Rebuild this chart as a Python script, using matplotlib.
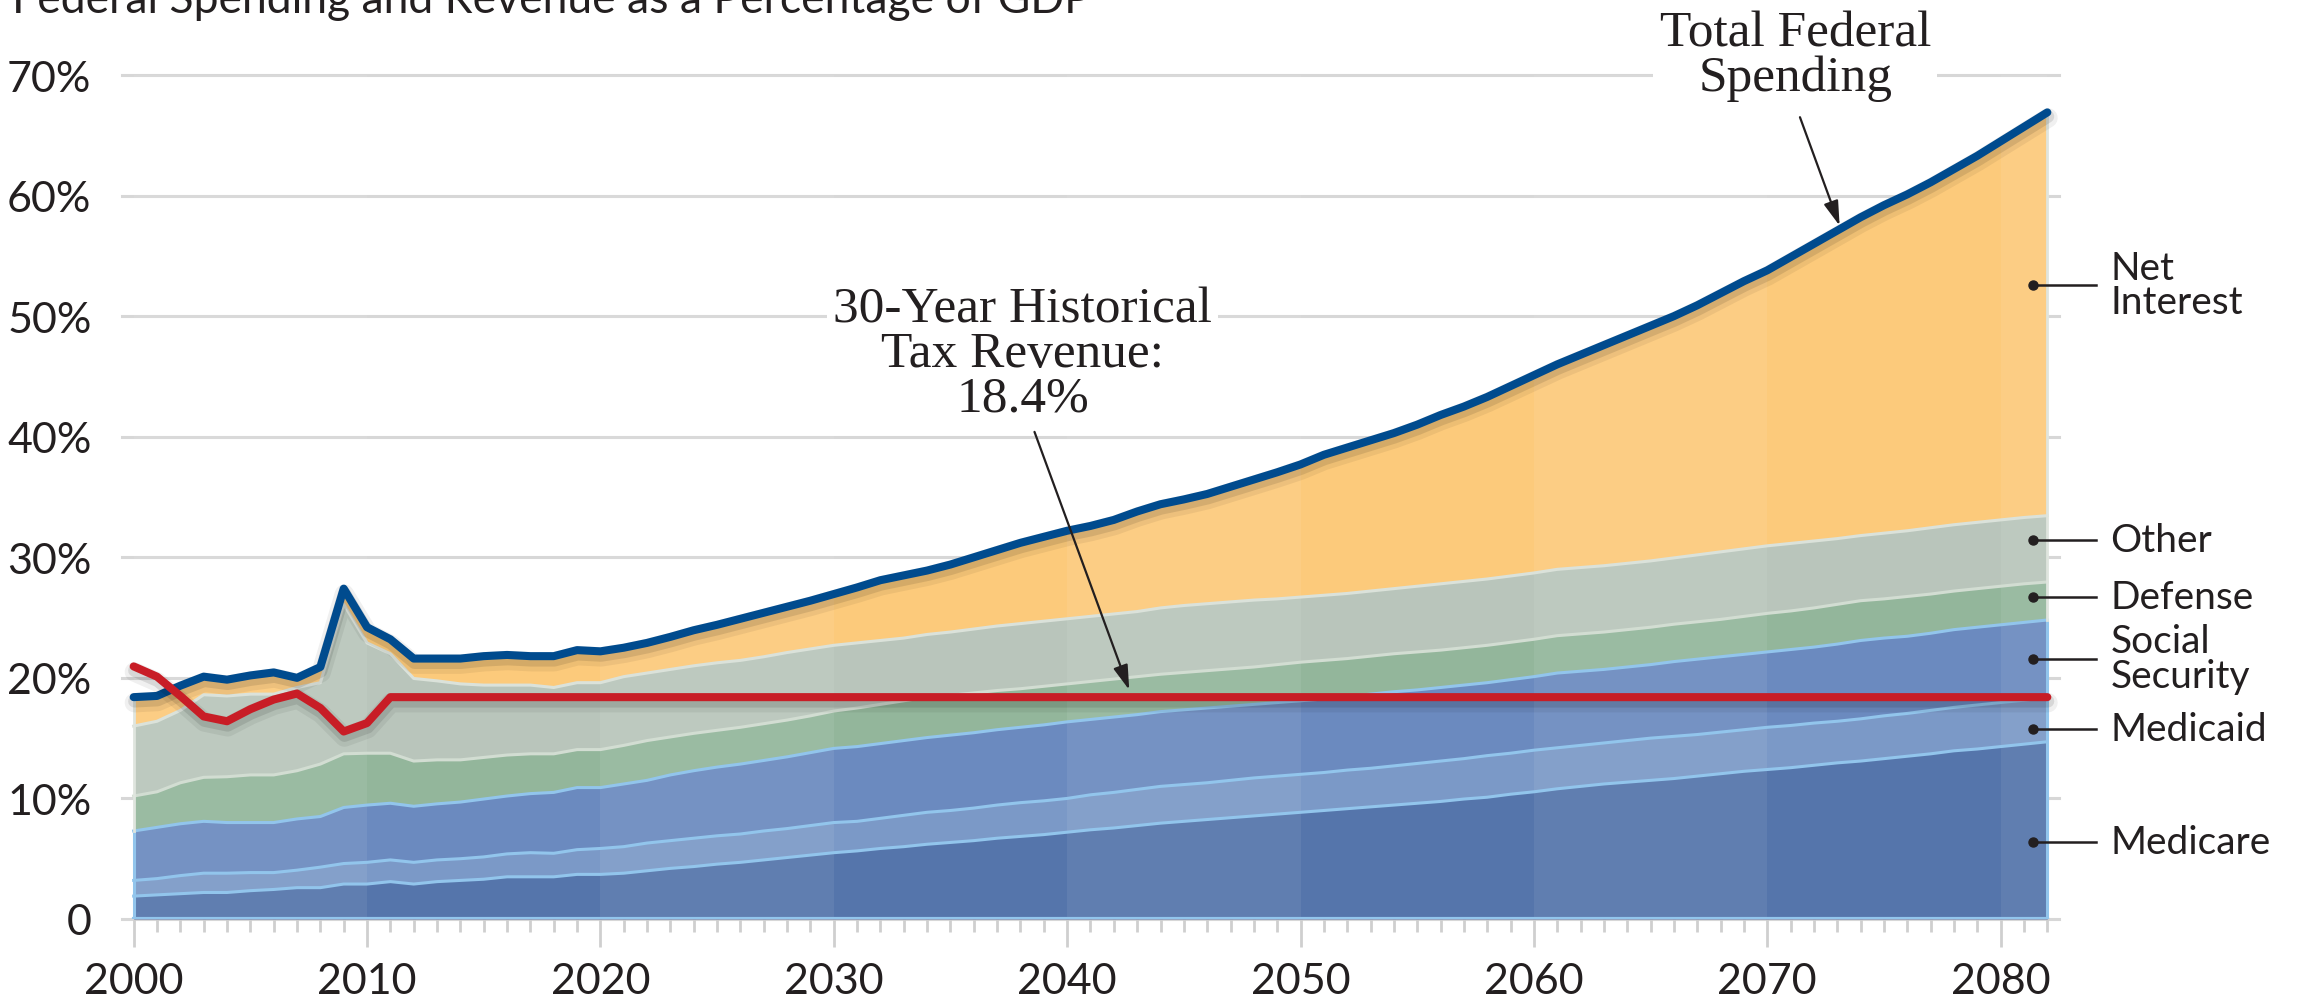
import numpy as np
import matplotlib.pyplot as plt
import matplotlib.patheffects as pe

# ---- data (percent of GDP) ----
years = np.arange(2000, 2083)

medicare = [1.9, 2.0, 2.1, 2.2, 2.2, 2.35, 2.45, 2.6, 2.6, 2.9,
            2.9, 3.1, 2.9, 3.1, 3.2, 3.3, 3.5, 3.5, 3.5, 3.7,
            3.7, 3.8, 4.0, 4.2, 4.35, 4.55, 4.7, 4.9, 5.1, 5.3,
            5.5, 5.65, 5.85, 6.0, 6.2, 6.35, 6.5, 6.7, 6.85, 7.0,
            7.2, 7.4, 7.55, 7.75, 7.95, 8.1, 8.25, 8.4, 8.55, 8.7,
            8.85, 9.0, 9.15, 9.3, 9.45, 9.6, 9.75, 9.95, 10.1, 10.35,
            10.55, 10.8, 11.0, 11.2, 11.35, 11.5, 11.65, 11.85, 12.05, 12.25,
            12.4, 12.55, 12.75, 12.95, 13.1, 13.3, 13.5, 13.7, 13.95, 14.1,
            14.3, 14.5, 14.7]

medicaid = [1.3, 1.35, 1.5, 1.6, 1.6, 1.5, 1.4, 1.45, 1.7, 1.7,
            1.8, 1.8, 1.8, 1.8, 1.8, 1.85, 1.9, 2.0, 1.95, 2.05,
            2.15, 2.2, 2.3, 2.3, 2.35, 2.35, 2.35, 2.4, 2.4, 2.45,
            2.5, 2.45, 2.5, 2.6, 2.65, 2.65, 2.7, 2.75, 2.8, 2.8,
            2.8, 2.9, 2.95, 3.0, 3.05, 3.05, 3.05, 3.1, 3.15, 3.15,
            3.15, 3.15, 3.2, 3.2, 3.25, 3.3, 3.35, 3.35, 3.45, 3.4,
            3.45, 3.4, 3.4, 3.4, 3.45, 3.5, 3.5, 3.45, 3.45, 3.45,
            3.5, 3.5, 3.5, 3.45, 3.5, 3.55, 3.55, 3.6, 3.6, 3.65,
            3.65, 3.65, 3.65]

social_security = [4.1, 4.25, 4.3, 4.3, 4.2, 4.15, 4.15, 4.25, 4.2, 4.65,
                   4.75, 4.7, 4.65, 4.65, 4.7, 4.8, 4.8, 4.9, 5.05, 5.15,
                   5.05, 5.2, 5.2, 5.45, 5.6, 5.7, 5.8, 5.85, 5.95, 6.05,
                   6.15, 6.2, 6.2, 6.2, 6.2, 6.25, 6.25, 6.25, 6.25, 6.3,
                   6.35, 6.25, 6.25, 6.2, 6.2, 6.2, 6.2, 6.15, 6.1, 6.1,
                   6.1, 6.1, 6.1, 6.15, 6.15, 6.1, 6.1, 6.1, 6.05, 6.1,
                   6.1, 6.2, 6.15, 6.1, 6.1, 6.1, 6.2, 6.25, 6.25, 6.25,
                   6.25, 6.3, 6.3, 6.4, 6.5, 6.45, 6.4, 6.4, 6.45, 6.45,
                   6.45, 6.45, 6.45]

defense = [2.9, 2.95, 3.4, 3.65, 3.8, 3.95, 3.95, 4.0, 4.35, 4.45,
           4.3, 4.15, 3.75, 3.65, 3.5, 3.45, 3.4, 3.3, 3.2, 3.15,
           3.15, 3.2, 3.3, 3.15, 3.1, 3.05, 3.05, 3.05, 3.05, 3.05,
           3.1, 3.2, 3.25, 3.3, 3.35, 3.3, 3.3, 3.25, 3.2, 3.2,
           3.15, 3.15, 3.15, 3.15, 3.1, 3.1, 3.1, 3.1, 3.1, 3.15,
           3.2, 3.2, 3.15, 3.15, 3.15, 3.15, 3.1, 3.1, 3.1, 3.1,
           3.1, 3.1, 3.1, 3.1, 3.1, 3.1, 3.1, 3.1, 3.1, 3.15,
           3.2, 3.2, 3.25, 3.3, 3.3, 3.25, 3.3, 3.25, 3.2, 3.2,
           3.2, 3.2, 3.15]

other = [5.8, 5.85, 6.0, 6.85, 6.7, 6.7, 6.7, 6.9, 6.75, 12.4,
         9.15, 8.25, 6.85, 6.55, 6.3, 6.0, 5.8, 5.7, 5.5, 5.55,
         5.55, 5.7, 5.6, 5.6, 5.6, 5.6, 5.55, 5.55, 5.6, 5.55,
         5.45, 5.4, 5.3, 5.2, 5.2, 5.25, 5.3, 5.35, 5.4, 5.4,
         5.4, 5.4, 5.4, 5.4, 5.5, 5.55, 5.55, 5.55, 5.55, 5.45,
         5.4, 5.4, 5.4, 5.4, 5.4, 5.45, 5.5, 5.5, 5.5, 5.5,
         5.5, 5.5, 5.5, 5.5, 5.5, 5.5, 5.5, 5.55, 5.6, 5.6,
         5.6, 5.6, 5.55, 5.45, 5.4, 5.45, 5.45, 5.5, 5.5, 5.5,
         5.5, 5.5, 5.5]

net_interest = [2.4, 2.1, 2.05, 1.5, 1.35, 1.55, 1.8, 0.8, 1.3, 1.3,
                1.3, 1.2, 1.65, 1.85, 2.1, 2.4, 2.5, 2.4, 2.6, 2.7,
                2.6, 2.4, 2.5, 2.7, 2.95, 3.15, 3.45, 3.65, 3.8, 4.0,
                4.25, 4.6, 5.0, 5.2, 5.3, 5.6, 5.95, 6.3, 6.7, 7.0,
                7.3, 7.5, 7.8, 8.3, 8.6, 8.8, 9.1, 9.55, 10.0, 10.5,
                11.0, 11.65, 12.1, 12.5, 12.9, 13.4, 14.0, 14.5, 15.1, 15.75,
                16.4, 17.0, 17.65, 18.3, 18.9, 19.5, 20.05, 20.7, 21.45, 22.2,
                22.85, 23.75, 24.65, 25.55, 26.4, 27.2, 27.9, 28.65, 29.5, 30.4,
                31.4, 32.4, 33.45]

# tax revenue: actual 2000-2010, then the 30-year historical average
revenue_actual = [20.95, 20.1, 18.5, 16.8, 16.4, 17.4, 18.2, 18.7, 17.5, 15.55, 16.25]
revenue_avg = 18.4

layer_names = ['Medicare', 'Medicaid', 'Social\nSecurity', 'Defense', 'Other', 'Net\nInterest']

# ---- styling ----
fill_colors = ['#5575ab', '#7b99c7', '#6b8abf', '#93b69b', '#b9c5bb', '#fcca7b']
edge_colors = ['#92c5ec', '#92c5ec', '#92c5ec', '#d2ddd2', '#dbe2da']
label_y = [6.35, 15.75, 21.6, 26.7, 31.4, 52.6]
ink = '#231f20'
sans = 'Lato'
serif = 'Liberation Serif'

layers = np.array([medicare, medicaid, social_security, defense, other, net_interest])
tops = np.cumsum(layers, axis=0)
bottoms = tops - layers
total = tops[-1]
revenue = np.array(revenue_actual + [revenue_avg] * (len(years) - len(revenue_actual)))

fig = plt.figure(figsize=(22.98, 10.03), dpi=100)
ax = fig.add_axes([122 / 2298, 1 - 920 / 1003, 1937 / 2298, 844 / 1003])
ax.set_xlim(1999.5, 2082.5)
ax.set_ylim(0, 70)
for s in ax.spines.values():
    s.set_visible(False)

# gridlines
for v in range(0, 80, 10):
    ax.axhline(v, color='#d7d7d7', lw=2.2, zorder=1, clip_on=False)

# stacked areas
for i in range(len(layers)):
    ax.fill_between(years, bottoms[i], tops[i], color=fill_colors[i], lw=0, zorder=2)

# alternate decade shading
for d in range(2000, 2083, 20):
    ax.axvspan(d, min(d + 10, years[-1]), color='white', alpha=0.07, lw=0, zorder=2.5)

# layer boundaries and outline
for i in range(5):
    ax.plot(years, tops[i], color=edge_colors[i], lw=2.2, zorder=3)
ax.plot([years[0], years[-1]], [0, 0], color='#92c5ec', lw=3, zorder=3)
for x, j in ((years[0], 0), (years[-1], -1)):
    ax.plot([x, x], [0, tops[2][j]], color='#92c5ec', lw=2.2, zorder=3)
    ax.plot([x, x], [tops[2][j], tops[-1][j]], color='#dfe5de', lw=2, zorder=3)

shadow = [pe.SimpleLineShadow(offset=(0.5, -4), shadow_color='black', alpha=0.06, linewidth=14),
          pe.SimpleLineShadow(offset=(0.5, -3), shadow_color='black', alpha=0.10, linewidth=9),
          pe.Normal()]

ax.plot(years, total, color='#004b8e', lw=5.8, solid_capstyle='round',
        solid_joinstyle='round', zorder=6, path_effects=shadow)
ax.plot(years, revenue, color='#c81d26', lw=5.8, solid_capstyle='round',
        solid_joinstyle='round', zorder=7, path_effects=shadow)

# axes ticks
ax.set_yticks(range(0, 80, 10))
ax.set_yticklabels(['0'] + ['%d%%' % v for v in range(10, 80, 10)])
ax.set_xticks(range(2000, 2081, 10))
ax.set_xticks(years, minor=True)
ax.tick_params(axis='y', length=0, pad=22, labelsize=31, labelcolor=ink)
ax.tick_params(axis='x', which='major', length=20, width=2, color='#cfcfcf',
               pad=11, labelsize=31, labelcolor=ink)
ax.tick_params(axis='x', which='minor', length=9.5, width=2, color='#cfcfcf')
for lab in ax.get_xticklabels() + ax.get_yticklabels():
    lab.set_fontfamily(sans)
    lab.set_fontweight('normal')

# right-hand category labels
for name, ly in zip(layer_names, label_y):
    ax.plot([2081.37, 2084.1], [ly, ly], color=ink, lw=1.8, zorder=9, clip_on=False)
    ax.plot(2081.37, ly, 'o', ms=6.5, color=ink, zorder=9, clip_on=False)
    ax.text(2084.7, ly, name, ha='left', va='center', fontsize=28, family=sans,
            color=ink, linespacing=0.95, clip_on=False)

# annotations
box = dict(boxstyle='square,pad=0.12', fc='white', ec='none')
arrow = dict(arrowstyle='-|>,head_length=1.0,head_width=0.3', color=ink, lw=1.6,
             mutation_scale=15, shrinkA=0, shrinkB=0)
ax.text(2071.2, 71.6, 'Total Federal\nSpending', ha='center', va='center', fontsize=37,
        family=serif, color=ink, linespacing=0.95, bbox=box, zorder=5, clip_on=False)
ax.annotate('', xy=(2073.1, 57.5), xytext=(2071.4, 66.5), arrowprops=arrow,
            annotation_clip=False, zorder=9)
ax.text(2038.1, 46.9, '30-Year Historical\nTax Revenue:\n18.4%', ha='center', va='center',
        fontsize=37, family=serif, color=ink, linespacing=0.95, bbox=box, zorder=5)
ax.annotate('', xy=(2042.66, 19.0), xytext=(2038.6, 40.4), arrowprops=arrow,
            annotation_clip=False, zorder=9)

fig.text(12 / 2298, 1 - 13 / 1003, 'Federal Spending and Revenue as a Percentage of GDP',
         ha='left', va='baseline', fontsize=32, family=sans, color=ink)

fig.savefig('out.png', dpi=100, facecolor='white')
